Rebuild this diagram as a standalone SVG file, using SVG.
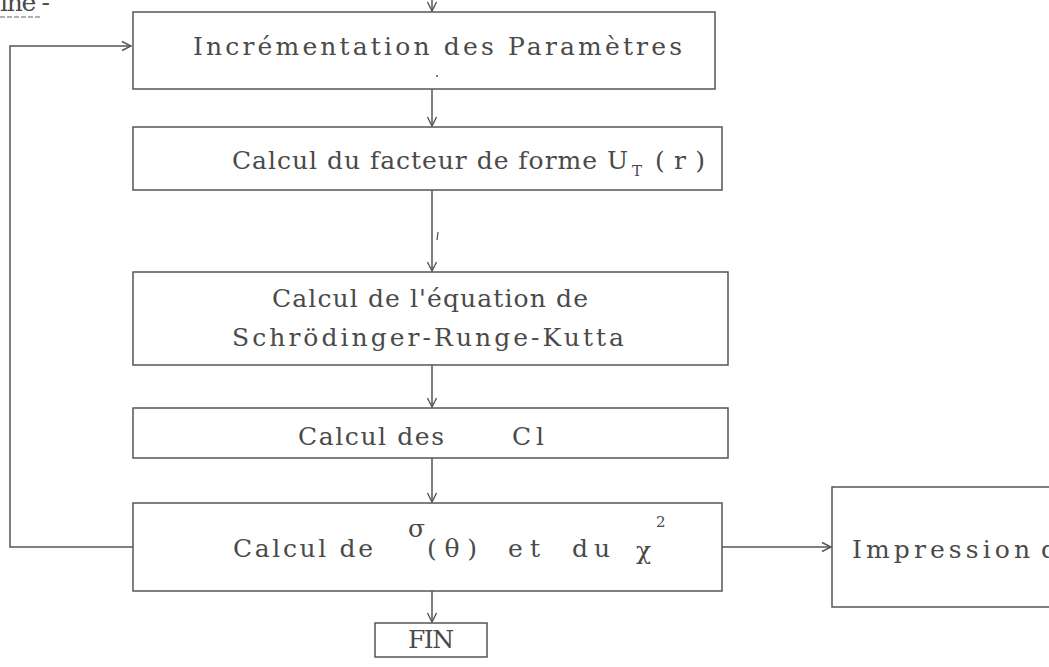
<svg xmlns="http://www.w3.org/2000/svg" width="1049" height="667" viewBox="0 0 1049 667">
<style>
.box{fill:none;stroke:#555;stroke-width:1.5}
.t{font-family:"DejaVu Serif","Liberation Serif",serif;font-size:25px;fill:#4a4a4a}
.s{font-family:"DejaVu Serif","Liberation Serif",serif;font-size:15px;fill:#4a4a4a}
.c{fill:none;stroke:#555;stroke-width:1.5}
</style>
<defs>
<marker id="ah" markerWidth="12" markerHeight="12" refX="10" refY="6" orient="auto" markerUnits="userSpaceOnUse">
<path d="M1,1.5 L10,6 L1,10.5" fill="none" stroke="#555" stroke-width="1.4"/>
</marker>
</defs>
<rect width="1049" height="667" fill="#fff"/>
<g id="header">
<text class="t" x="0" y="11" textLength="50" lengthAdjust="spacing">ine -</text>
<line x1="0" y1="17" x2="40" y2="17" stroke="#666" stroke-width="1.2" stroke-dasharray="5 2"/>
</g>
<g id="connectors">
<line class="c" x1="432" y1="0" x2="432" y2="11" marker-end="url(#ah)"/>
<line class="c" x1="432" y1="89" x2="432" y2="126" marker-end="url(#ah)"/>
<line class="c" x1="432" y1="190" x2="432" y2="271" marker-end="url(#ah)"/>
<line class="c" x1="432" y1="365" x2="432" y2="407" marker-end="url(#ah)"/>
<line class="c" x1="432" y1="458" x2="432" y2="502" marker-end="url(#ah)"/>
<line class="c" x1="432" y1="591" x2="432" y2="622" marker-end="url(#ah)"/>
<path class="c" d="M133,547 H10 V46 H131" marker-end="url(#ah)"/>
<line class="c" x1="722" y1="547" x2="831" y2="547" marker-end="url(#ah)"/>
<path d="M438,232 L437,240" stroke="#555" stroke-width="1.2"/>
</g>
<g id="n1">
<rect class="box" x="133" y="12" width="582" height="77"/>
<text class="t" x="193" y="55" textLength="489" lengthAdjust="spacing">Incrémentation des Paramètres</text>
<circle cx="437" cy="76" r="1" fill="#555"/>
</g>
<g id="n2">
<rect class="box" x="133" y="127" width="589" height="63"/>
<text class="t" x="232" y="169" textLength="396" lengthAdjust="spacing">Calcul du facteur de forme U</text>
<text class="s" x="632" y="176">T</text>
<text class="t" x="655" y="169" textLength="50" lengthAdjust="spacing">(r)</text>
</g>
<g id="n3">
<rect class="box" x="133" y="272" width="595" height="93"/>
<text class="t" x="272" y="307" textLength="316" lengthAdjust="spacing">Calcul de l'équation de</text>
<text class="t" x="232" y="346" textLength="392" lengthAdjust="spacing">Schrödinger-Runge-Kutta</text>
</g>
<g id="n4">
<rect class="box" x="133" y="408" width="595" height="50"/>
<text class="t" x="298" y="445" textLength="146" lengthAdjust="spacing">Calcul des</text>
<text class="t" x="512" y="445" textLength="32" lengthAdjust="spacing">Cl</text>
</g>
<g id="n5">
<rect class="box" x="133" y="503" width="589" height="88"/>
<text class="t" x="233" y="557" textLength="140" lengthAdjust="spacing">Calcul de</text>
<text class="t" x="408" y="537" font-size="19">σ</text>
<text class="t" x="427" y="557" textLength="50" lengthAdjust="spacing">(θ)</text>
<text class="t" x="508" y="557" textLength="32" lengthAdjust="spacing">et</text>
<text class="t" x="572" y="557" textLength="38" lengthAdjust="spacing">du</text>
<text class="t" x="636" y="559">χ</text>
<text class="s" x="656" y="527">2</text>
</g>
<g id="n6">
<rect class="box" x="832" y="487" width="240" height="120"/>
<text class="t" x="852" y="558" textLength="178" lengthAdjust="spacing">Impression</text>
<text class="t" x="1041" y="558">d</text>
</g>
<g id="n7">
<rect class="box" x="375" y="623" width="112" height="34"/>
<text class="t" x="408" y="648" textLength="46" lengthAdjust="spacing">FIN</text>
</g>
</svg>
